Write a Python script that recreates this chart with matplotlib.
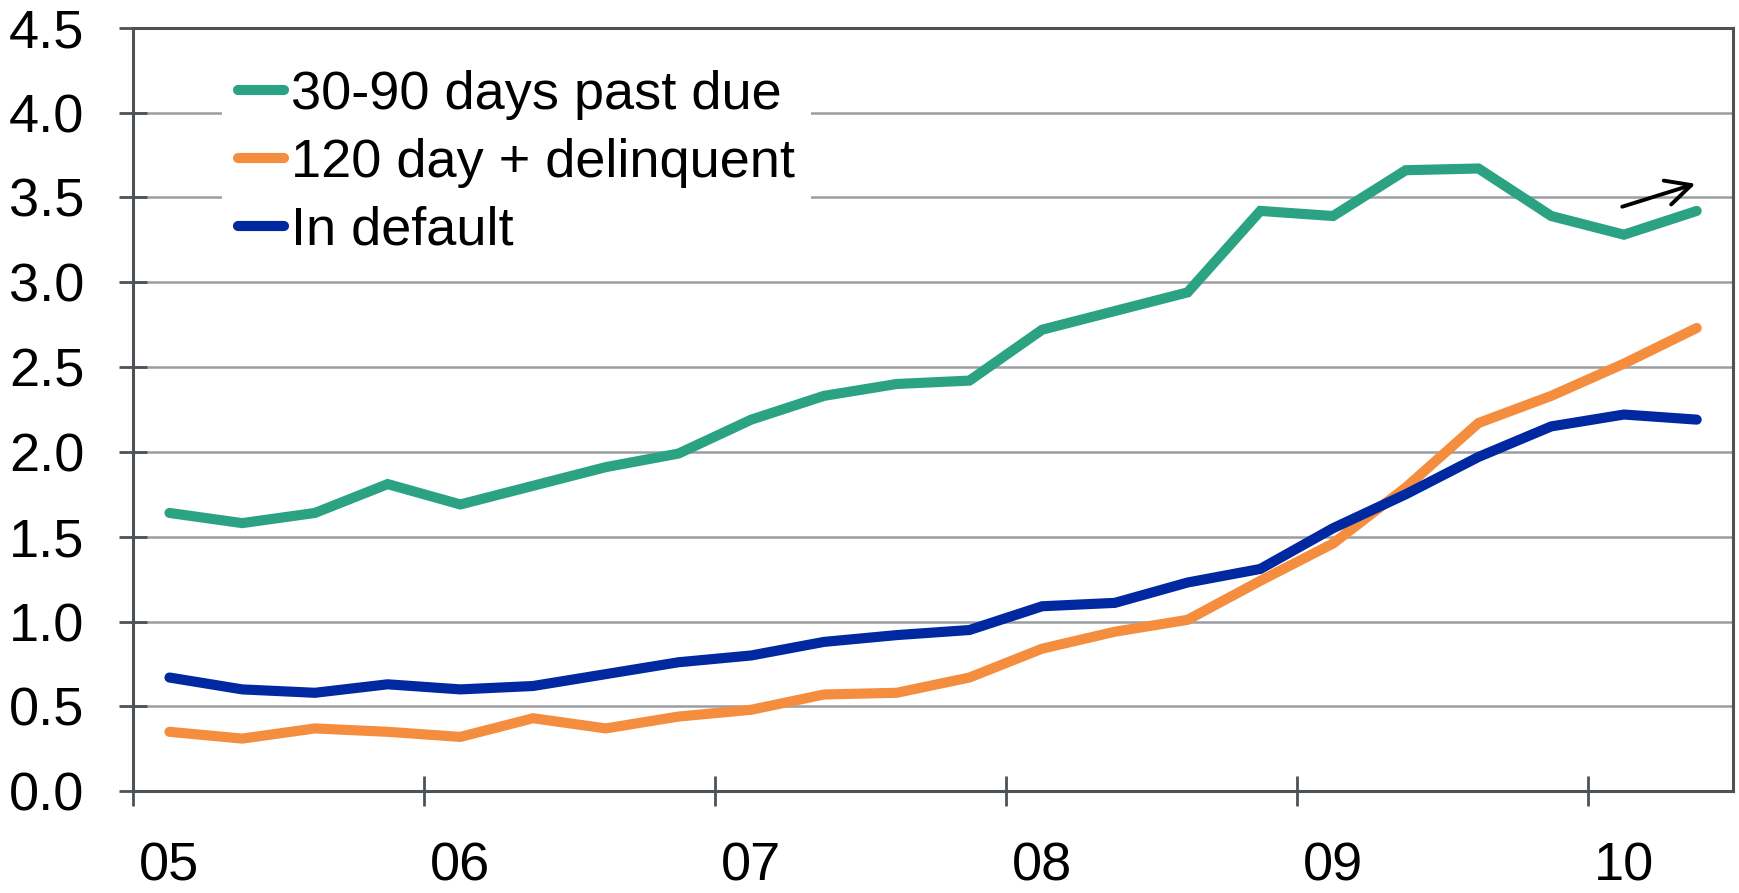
import matplotlib
matplotlib.use("Agg")
import matplotlib.pyplot as plt
import numpy as np

plt.rcParams['font.family'] = ['Liberation Sans', 'DejaVu Sans']

years = [2005, 2006, 2007, 2008, 2009, 2010]
year_labels = ['05', '06', '07', '08', '09', '10']
n_quarters = 22  # 2005 Q1 .. 2010 Q2

past_due_30_90 = [1.64, 1.58, 1.64, 1.81, 1.69, 1.80, 1.91, 1.99, 2.19, 2.33, 2.40,
                  2.42, 2.72, 2.83, 2.94, 3.42, 3.39, 3.66, 3.67, 3.39, 3.28, 3.42]
delinquent_120 = [0.35, 0.31, 0.37, 0.35, 0.32, 0.43, 0.37, 0.44, 0.48, 0.57, 0.58,
                  0.67, 0.84, 0.94, 1.01, 1.24, 1.46, 1.79, 2.17, 2.33, 2.52, 2.73]
in_default = [0.67, 0.60, 0.58, 0.63, 0.60, 0.62, 0.69, 0.76, 0.80, 0.88, 0.92,
              0.95, 1.09, 1.11, 1.23, 1.31, 1.55, 1.75, 1.97, 2.15, 2.22, 2.19]

labels = ['30-90 days past due', '120 day + delinquent', 'In default']
colors = ['#2BA383', '#F58D3F', '#0028A0']

x = 2005 + 0.125 + 0.25 * np.arange(n_quarters)

FS = 39

fig = plt.figure(figsize=(17.4, 8.93), dpi=100)
ax = fig.add_axes([0.0765, 0.114, 0.9195, 0.855])

for ys, lab, c in zip([past_due_30_90, delinquent_120, in_default], labels, colors):
    ax.plot(x, ys, color=c, lw=7.3, label=lab, solid_capstyle='round', solid_joinstyle='miter', zorder=3)

ax.set_xlim(2005, 2010.5)
ax.set_ylim(0, 4.5)
ax.set_yticks(np.arange(0, 4.51, 0.5))
ax.set_yticklabels([f'{v:.1f}' for v in np.arange(0, 4.51, 0.5)])
ax.set_xticks(years)
ax.set_xticklabels([''] * len(years))
ax.set_xticks([y + 0.125 for y in years], minor=True)
ax.set_xticklabels(year_labels, minor=True)

spine_c = '#4D5257'
for s in ax.spines.values():
    s.set_color(spine_c)
    s.set_linewidth(2.2)

ax.yaxis.grid(True, color='#9A9EA2', lw=1.8, zorder=1)
ax.set_axisbelow(True)

ax.tick_params(axis='y', which='major', direction='inout', length=20, width=2, color=spine_c,
               labelsize=FS, pad=25, labelcolor='black')
ax.tick_params(axis='x', which='major', direction='inout', length=22, width=2, color=spine_c)
ax.tick_params(axis='x', which='minor', length=0, labelsize=FS, pad=36, labelcolor='black')

leg = ax.legend(loc='upper left', bbox_to_anchor=(0.0556, 0.966), fontsize=FS, frameon=True,
                facecolor='white', edgecolor='none', framealpha=1.0, handlelength=0.85,
                handletextpad=0.12, labelspacing=0.33, borderaxespad=0.0, borderpad=0.3,
                fancybox=False)
leg.set_zorder(2)
for h in leg.legend_handles:
    h.set_linewidth(7.3)
    h.set_solid_capstyle('round')

ax.annotate('', xy=(2010.38, 3.585), xytext=(2010.11, 3.44),
            arrowprops=dict(arrowstyle='->', lw=2.8, color='black', mutation_scale=45),
            zorder=4)

fig.savefig('out.png', dpi=100)
